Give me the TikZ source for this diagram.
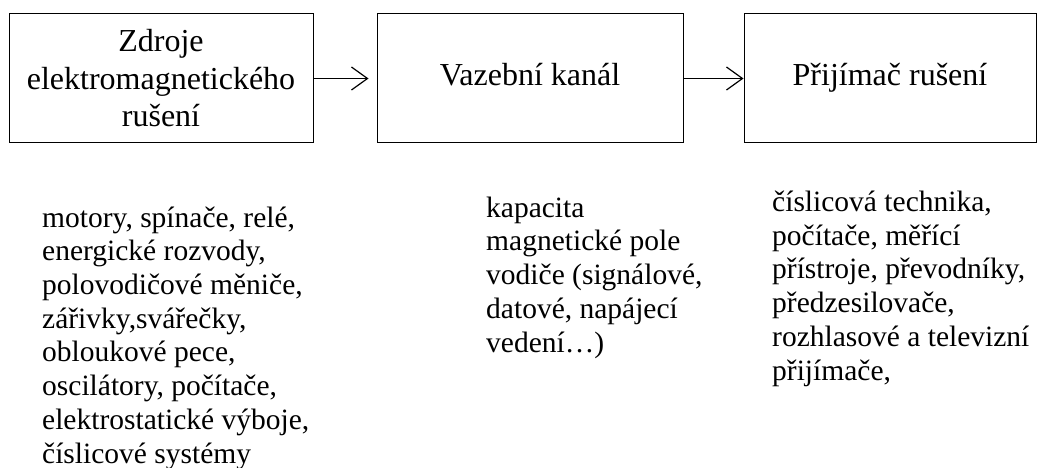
\documentclass[tikz,border=0pt]{standalone}
\usepackage{fontspec}
\setmainfont{Liberation Serif}
\usetikzlibrary{arrows.meta}
\tikzset{
  block/.style={draw, line width=1pt, align=center, inner sep=0pt,
    minimum height=129pt, font=\fontsize{32}{37.5}\selectfont},
  oneline/.style={text height=22pt, text depth=7pt},
  flow/.style={line width=1.2pt, -{Straight Barb[length=16pt,width=23pt,line width=1.2pt]}},
  listtext/.style={anchor=base west, align=left, inner sep=0pt,
    font=\fontsize{29.5}{33.7}\selectfont}
}
\begin{document}
\begin{tikzpicture}[x=1pt,y=-1pt]
\useasboundingbox (0,0) rectangle (1037,468);
% the three blocks of the chain
\node[block, minimum width=304pt] (src) at (161,78.5) {Zdroje\\elektromagnetického\\rušení};
\node[block, oneline, minimum width=306pt] (chan) at (530,78.5) {Vazební kanál};
\node[block, oneline, minimum width=292pt] (rcv) at (890,78.5) {Přijímač rušení};
\coordinate (chanin) at ([xshift=-8pt]chan.west);
% connectors
\draw[flow] (src.east) -- (chanin);
\draw[flow] (chan.east) -- (rcv.west);
% examples under each block (anchored at the baseline of their last line)
\node[listtext] (srclist) at (42,463) {motory, spínače, relé,\\energické rozvody,\\polovodičové měniče,\\zářivky,svářečky,\\obloukové pece,\\oscilátory, počítače,\\elektrostatické výboje,\\číslicové systémy};
\node[listtext] (chanlist) at (486,352) {kapacita\\magnetické pole\\vodiče (signálové,\\datové, napájecí\\vedení…)};
\node[listtext] (rcvlist) at (772,380) {číslicová technika,\\počítače, měřící\\přístroje, převodníky,\\předzesilovače,\\rozhlasové a televizní\\přijímače,};
\end{tikzpicture}
\end{document}
